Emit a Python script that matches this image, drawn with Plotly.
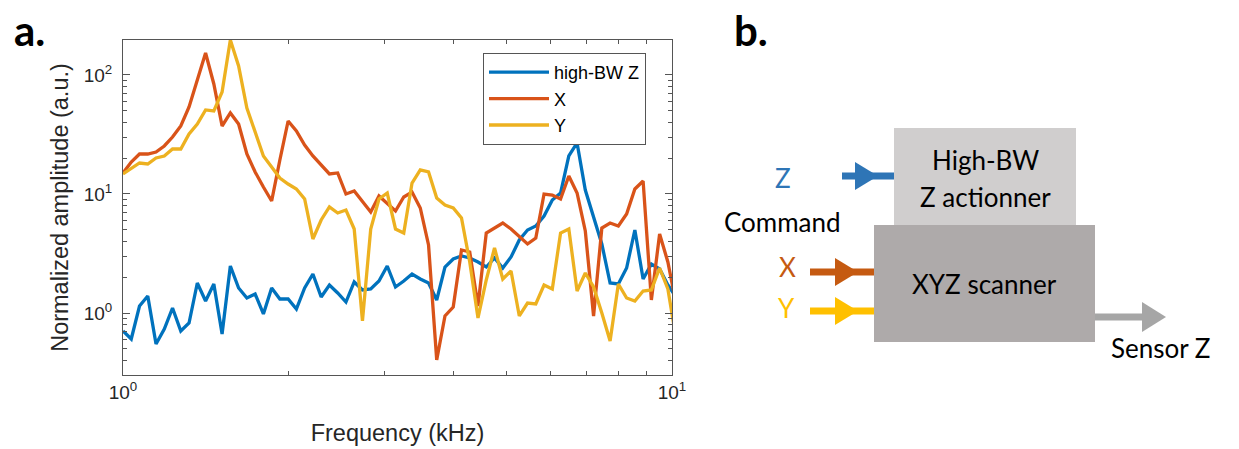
import plotly.graph_objects as go

# frequency grid (kHz), log spaced
freq_khz = [1.0000, 1.0352, 1.0717, 1.1095, 1.1486, 1.1891, 1.2309, 1.2743, 1.3192, 1.3657,
            1.4139, 1.4637, 1.5153, 1.5687, 1.6240, 1.6813, 1.7405, 1.8019, 1.8654, 1.9307,
            1.9988, 2.0693, 2.1422, 2.2177, 2.2960, 2.3768, 2.4607, 2.5474, 2.6372, 2.7301,
            2.8263, 2.9260, 3.0291, 3.1359, 3.2464, 3.3608, 3.4793, 3.6019, 3.7276, 3.8590,
            3.9950, 4.1358, 4.2813, 4.4323, 4.5885, 4.7503, 4.9177, 5.0910, 5.2705, 5.4556,
            5.6479, 5.8470, 6.0531, 6.2664, 6.4872, 6.7159, 6.9519, 7.1969, 7.4506, 7.7133,
            7.9850, 8.2664, 8.5577, 8.8587, 9.1710, 9.4941, 9.8284, 10.175]

# normalized amplitude (a.u.)
amp_z = [0.706, 0.605, 1.145, 1.390, 0.549, 0.734, 1.102, 0.706, 0.824, 1.787,
         1.261, 1.753, 0.666, 2.483, 1.622, 1.337, 1.444, 0.981, 1.622, 1.311,
         1.311, 1.080, 1.622, 2.127, 1.363, 1.719, 1.473, 1.237, 1.822, 1.561,
         1.591, 1.857, 2.483, 1.654, 1.857, 2.127, 1.931, 1.787, 1.286, 2.435,
         2.843, 3.013, 2.899, 2.683, 2.435, 2.899, 2.389, 2.955, 4.106, 4.983,
         5.384, 6.533, 8.905, 10.19, 20.86, 26.83, 10.80, 6.533, 3.801, 1.787,
         1.753, 2.389, 4.983, 1.931, 2.581, 2.343, 1.719, 1.363]

amp_x = [15.02, 18.57, 21.68, 21.68, 22.54, 25.32, 30.13, 37.27, 53.84, 90.78,
         153.0, 84.03, 37.27, 47.95, 38.74, 21.68, 15.31, 11.45, 8.733, 19.31,
         41.06, 33.83, 25.81, 20.86, 17.52, 14.73, 15.02, 10.00, 10.60, 8.565,
         7.060, 9.620, 8.403, 7.196, 9.436, 10.39, 7.626, 3.728, 0.403, 0.944,
         1.123, 3.384, 3.255, 1.145, 4.702, 5.179, 5.705, 5.081, 4.437, 3.801,
         4.268, 10.00, 9.808, 9.078, 14.17, 10.19, 4.887, 0.944, 5.179, 5.705,
         5.384, 6.792, 11.02, 12.86, 1.286, 4.611, 2.683, 1.190]

amp_y = [14.73, 16.54, 18.22, 17.87, 20.07, 20.86, 23.89, 23.89, 31.94, 38.74,
         50.81, 49.83, 71.97, 196.9, 119.0, 52.81, 32.55, 20.86, 16.86, 13.63,
         12.13, 11.02, 9.078, 4.186, 6.047, 7.778, 6.922, 7.338, 5.081, 0.857,
         5.081, 9.078, 10.19, 5.081, 4.702, 12.37, 15.91, 15.31, 9.255, 8.084,
         7.626, 6.285, 2.683, 0.908, 1.894, 3.518, 1.931, 2.254, 0.944, 1.213,
         1.190, 1.719, 1.591, 4.702, 5.081, 1.531, 2.168, 1.654, 1.000, 0.582,
         1.753, 1.337, 1.261, 1.531, 1.561, 2.389, 1.591, 0.605]

series = [("high-BW Z", amp_z, "#0072BD"),
          ("X", amp_x, "#D95319"),
          ("Y", amp_y, "#EDB120")]

OFF = 8  # page body margin pushes the figure 8px right/down
W, H = 1239 - OFF, 449 - OFF
# plot box, figure pixels
px_l, px_r, px_t, px_b = 123 - OFF, 672 - OFF, 40 - OFF, 375 - OFF

fig = go.Figure()
for name, vals, col in series:
    fig.add_trace(go.Scatter(x=freq_khz, y=vals, mode="lines", name=name,
                             line=dict(color=col, width=3.3)))

axis_col = "#555555"
txt_col = "#262626"
tick_font = dict(family="Liberation Sans, Arial", size=19, color=txt_col)
title_font = dict(family="Liberation Sans, Arial", size=23.5, color=txt_col)

fig.update_layout(
    width=W, height=H, autosize=False,
    margin=dict(l=0, r=0, t=0, b=0, pad=0),
    paper_bgcolor="white", plot_bgcolor="rgba(0,0,0,0)",
    showlegend=True,
    legend=dict(x=(483 - OFF) / W, y=1 - (53 - OFF) / H, xanchor="left", yanchor="top",
                bgcolor="white", bordercolor=axis_col, borderwidth=1,
                font=dict(family="Liberation Sans, Arial", size=18, color="#000"),
                itemwidth=60, tracegroupgap=0),
    xaxis=dict(type="log", range=[0, 1], domain=[px_l / W, px_r / W], automargin=False,
               showline=True, linecolor=axis_col, linewidth=1, mirror="allticks",
               ticks="inside", ticklen=7, tickcolor=axis_col,
               tickvals=[1, 10], ticktext=["10<sup>0</sup>", "10<sup>1</sup>"],
               tickfont=tick_font, showgrid=False, zeroline=False,
               minor=dict(ticks="inside", ticklen=4, tickcolor=axis_col,
                          tickvals=[2, 3, 4, 5, 6, 7, 8, 9], showgrid=False),
               title=dict(text="Frequency (kHz)", standoff=22, font=title_font)),
    yaxis=dict(type="log", range=[-0.521, 2.294], domain=[1 - px_b / H, 1 - px_t / H],
               automargin=False,
               showline=True, linecolor=axis_col, linewidth=1, mirror="allticks",
               ticks="inside", ticklen=7, tickcolor=axis_col, ticklabelstandoff=6,
               tickvals=[1, 10, 100], ticktext=["10<sup>0</sup>", "10<sup>1</sup>", "10<sup>2</sup>"],
               tickfont=tick_font, showgrid=False, zeroline=False,
               minor=dict(ticks="inside", ticklen=4, tickcolor=axis_col,
                          tickvals=[0.4, 0.5, 0.6, 0.7, 0.8, 0.9, 2, 3, 4, 5, 6, 7, 8, 9,
                                    20, 30, 40, 50, 60, 70, 80, 90], showgrid=False),
               title=dict(text="Normalized amplitude (a.u.)", standoff=8, font=title_font)),
    # hidden axes in screen pixels for the block diagram and panel letters
    xaxis2=dict(domain=[0, 1], range=[OFF, W + OFF], visible=False, fixedrange=True,
                automargin=False),
    yaxis2=dict(domain=[0, 1], range=[H + OFF, OFF], visible=False, fixedrange=True,
                anchor="x2", automargin=False),
)

# invisible trace so x2/y2 get drawn
fig.add_trace(go.Scatter(x=[700], y=[100], xaxis="x2", yaxis="y2", mode="markers",
                         marker=dict(opacity=0), showlegend=False, hoverinfo="skip"))

blue_c, orange_c, yellow_c, grey_c = "#2E75B6", "#C55A11", "#FFC000", "#A6A6A6"
ref = dict(xref="x2", yref="y2")

# boxes
fig.add_shape(type="rect", x0=894, x1=1076, y0=128, y1=225, fillcolor="#D0CECE",
              line=dict(width=0), layer="below", **ref)
fig.add_shape(type="rect", x0=874, x1=1095, y0=225, y1=342, fillcolor="#AEAAAA",
              line=dict(width=0), layer="below", **ref)


def arrow(x0, x1, y, tip_base, tip_end, half, col):
    fig.add_shape(type="line", x0=x0, x1=x1, y0=y, y1=y,
                  line=dict(color=col, width=7), **ref)
    fig.add_shape(type="path",
                  path=f"M {tip_base},{y - half} L {tip_end},{y} L {tip_base},{y + half} Z",
                  fillcolor=col, line=dict(color=col, width=0), **ref)


arrow(842, 894, 176, 855, 878, 14, blue_c)
arrow(810, 874, 272, 835, 858, 14, orange_c)
arrow(810, 874, 311, 835, 858, 14, yellow_c)
arrow(1095, 1143, 317, 1142, 1166, 15, grey_c)

diag_font = "Lato, Open Sans, sans-serif"
labels = [
    ("Z", 783, 178, blue_c), ("Command", 782, 222, "#000"),
    ("X", 787, 267, orange_c), ("Y", 786, 308, yellow_c),
    ("High-BW", 985, 160, "#000"), ("Z actionner", 985, 197, "#000"),
    ("XYZ scanner", 984, 284, "#000"), ("Sensor Z", 1161, 348, "#000"),
]
for txt, x, y, col in labels:
    fig.add_annotation(text=txt, x=x, y=y, showarrow=False, xanchor="center", yanchor="middle",
                       font=dict(family=diag_font, size=26, color=col), **ref)

# panel letters
for txt, x in [("a.", 12), ("b.", 732)]:
    fig.add_annotation(text=f"<b>{txt}</b>", x=x, y=30, showarrow=False,
                       xanchor="left", yanchor="middle",
                       font=dict(family=diag_font, size=42, color="#000"), **ref)

fig.write_html("out.html")
